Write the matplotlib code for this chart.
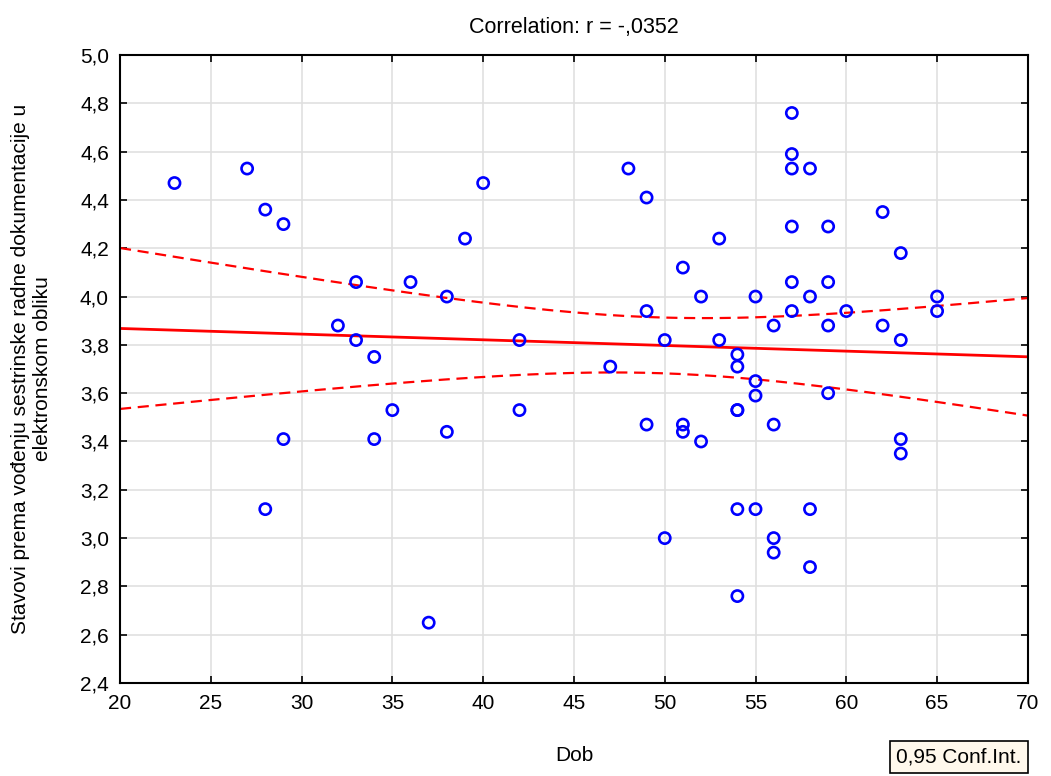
import numpy as np
import matplotlib
matplotlib.use("Agg")
import matplotlib.pyplot as plt
from matplotlib.ticker import FuncFormatter

plt.rcParams['font.family'] = ['Liberation Sans', 'DejaVu Sans']

# age (Dob) and attitude score
dob = [23, 27, 28, 29, 28, 29, 32, 33, 33, 34, 34, 35, 36, 37, 38, 38, 39, 40,
       42, 42, 47, 48, 49, 49, 49, 50, 50, 51, 51, 51, 52, 52, 53, 53,
       54, 54, 54, 54, 54, 54, 55, 55, 55, 55, 56, 56, 56, 56,
       57, 57, 57, 57, 57, 57, 58, 58, 58, 58, 59, 59, 59, 59, 60,
       62, 62, 63, 63, 63, 63, 65, 65]
stav = [4.47, 4.53, 4.36, 4.30, 3.12, 3.41, 3.88, 4.06, 3.82, 3.75, 3.41, 3.53, 4.06, 2.65, 4.00, 3.44, 4.24, 4.47,
        3.82, 3.53, 3.71, 4.53, 4.41, 3.94, 3.47, 3.82, 3.00, 4.12, 3.47, 3.44, 4.00, 3.40, 4.24, 3.82,
        3.76, 3.71, 3.53, 3.53, 3.12, 2.76, 4.00, 3.65, 3.59, 3.12, 3.88, 3.47, 3.00, 2.94,
        4.76, 4.59, 4.53, 4.29, 4.06, 3.94, 4.53, 4.00, 3.12, 2.88, 4.29, 4.06, 3.88, 3.60, 3.94,
        4.35, 3.88, 4.18, 3.82, 3.41, 3.35, 4.00, 3.94]

x = np.array(dob, dtype=float)
y = np.array(stav, dtype=float)

# linear fit and 95% confidence band of the mean
n = len(x)
b, a = np.polyfit(x, y, 1)
resid = y - (a + b * x)
s = np.sqrt(np.sum(resid ** 2) / (n - 2))
xx = np.linspace(20, 70, 200)
yy = a + b * xx
t = 1.994
half = t * s * np.sqrt(1.0 / n + (xx - x.mean()) ** 2 / np.sum((x - x.mean()) ** 2))

fig = plt.figure(figsize=(10.51, 7.76), dpi=100)
ax = fig.add_axes([0.1142, 0.1198, 0.8638, 0.8093])

ax.grid(True, color='#e0e0e0', linewidth=1.2, zorder=0)
ax.plot(xx, yy, color='red', linewidth=2, zorder=2)
ax.plot(xx, yy + half, color='red', linewidth=1.6, linestyle=(0, (5, 3)), zorder=2)
ax.plot(xx, yy - half, color='red', linewidth=1.6, linestyle=(0, (5, 3)), zorder=2)
ax.scatter(x, y, s=65, facecolors='none', edgecolors='#0000ff', linewidths=1.9, zorder=3)

ax.set_xlim(20, 70)
ax.set_ylim(2.4, 5.0)
ax.set_xticks(np.arange(20, 71, 5))
ax.set_yticks(np.arange(2.4, 5.01, 0.2))
ax.yaxis.set_major_formatter(FuncFormatter(lambda v, p: f"{v:.1f}".replace('.', ',')))
ax.tick_params(direction='in', top=True, right=True, length=5, width=1.2,
               labelsize=15, pad=8)
for sp in ax.spines.values():
    sp.set_linewidth(1.5)

ax.set_title('Correlation: r = -,0352', fontsize=15.5, pad=16)
ax.set_xlabel('Dob', fontsize=15, labelpad=24)
ax.set_ylabel('Stavovi prema vođenju sestrinske radne dokumentacije u\nelektronskom obliku',
              fontsize=15, labelpad=20)

fig.text(0.9125, 0.0245, '0,95 Conf.Int.', fontsize=15, ha='center', va='center',
         bbox=dict(boxstyle='square,pad=0.3', facecolor='#fff8ec', edgecolor='black', linewidth=1.2))

fig.savefig('out.png', dpi=100)
